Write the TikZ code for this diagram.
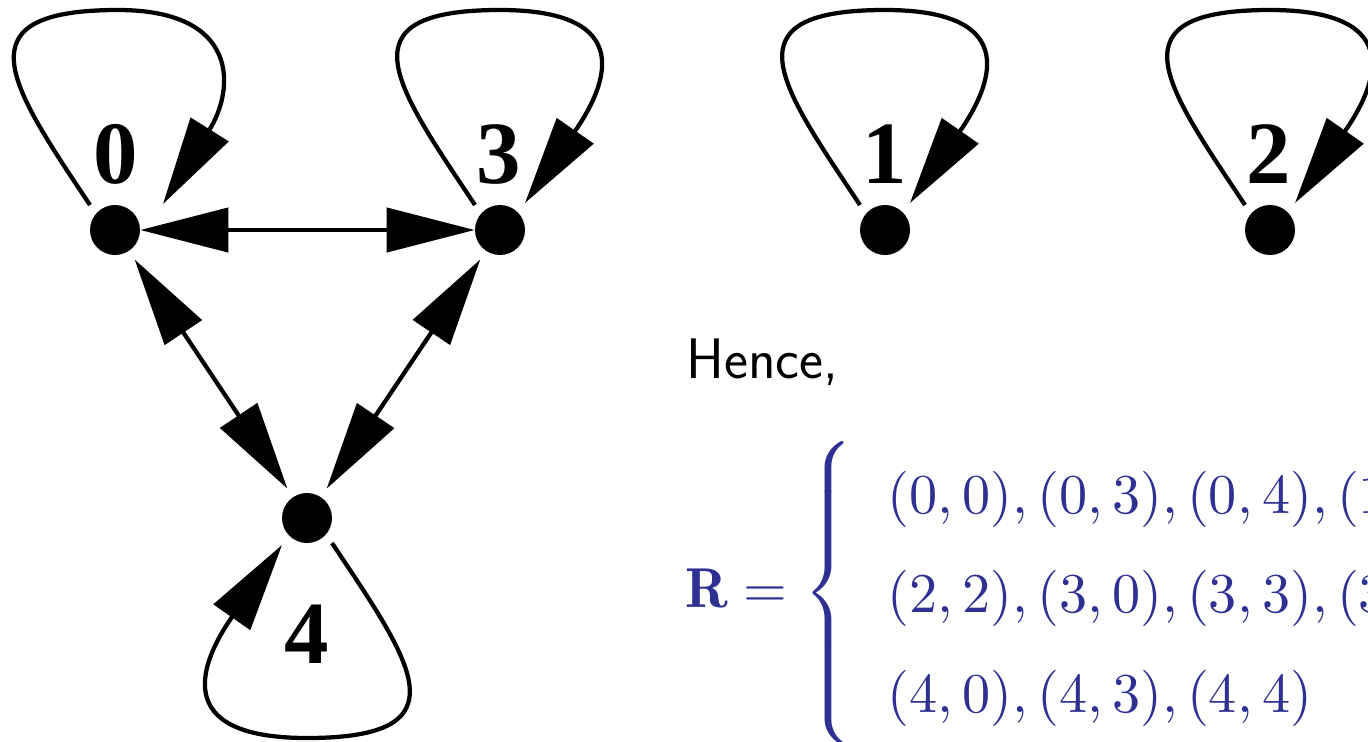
\documentclass[tikz,border=0pt]{standalone}
\usepackage{fontspec}
\usepackage{graphicx}
\newfontfamily\numfont{Liberation Serif}
\usetikzlibrary{arrows.meta,calc}
\definecolor{setblue}{RGB}{46,49,146}
% one row of the set: 100px pitch once scaled
\newcommand{\rowstrut}{\rule[-5.33pt]{0pt}{17.78pt}}

\begin{document}
\begin{tikzpicture}[
    x=0.02cm, y=-0.02cm,
    >={Triangle[length=1.76cm,width=0.88cm]},
    vertex/.style={circle, fill=black, inner sep=0pt, minimum size=1cm},
    vlabel/.style={anchor=base, inner sep=0pt,
      font=\numfont\bfseries\fontsize{50.6}{60}\selectfont},
    relarrow/.style={<->, line width=0.085cm},
    selfloop/.style={->, line width=0.085cm},
  ]

  % frame = cropped page, 1 unit = 1 pixel
  \useasboundingbox (0,0) rectangle (1368,741);
  \clip (0,0) rectangle (1368,741);

  % ------------------------------------------------------------------
  % vertices and their numbers
  % ------------------------------------------------------------------
  \node[vertex] (n0) at (115,230) {};
  \node[vertex] (n3) at (500,230) {};
  \node[vertex] (n1) at (885,230) {};
  \node[vertex] (n2) at (1270,230) {};
  \node[vertex] (n4) at (307,518) {};

  \node[vlabel] (l0) at ($(n0)+(1,-47)$) {0};
  \node[vlabel] (l3) at ($(n3)+(-1,-47)$) {3};
  \node[vlabel] (l1) at ($(n1)+(0,-47)$) {1};
  \node[vlabel] (l2) at ($(n2)+(-1,-47)$) {2};
  \node[vlabel] (l4) at ($(n4)+(0,145)$) {4};

  % ------------------------------------------------------------------
  % two-way edges of the triangle 0 -- 3 -- 4
  % ------------------------------------------------------------------
  \draw[relarrow] (n0) -- (n3);
  \draw[relarrow, shorten <=0.2cm, shorten >=0.2cm] (n0) -- (n4);
  \draw[relarrow, shorten <=0.2cm, shorten >=0.2cm] (n3) -- (n4);

  % ------------------------------------------------------------------
  % self-loops: left side up to the top, then down onto the dot
  % ------------------------------------------------------------------
  \draw[selfloop] ($(n0)+(-25,-25)$) .. controls +(-80,-120) and +(-160,0) .. ($(n0)+(3,-220)$)
    .. controls +(122,0) and +(72,-115) .. ($(n0)+(48,-26)$);
  \foreach \v in {n3,n1,n2} {
    \draw[selfloop] ($(\v)+(-25,-25)$) .. controls +(-80,-120) and +(-160,0) .. ($(\v)+(0,-220)$)
      .. controls +(140,0) and +(80,-115) .. ($(\v)+(25,-27)$);
  }
  % loop of 4 hangs below the dot
  \draw[selfloop] ($(n4)+(25,25)$) .. controls +(80,120) and +(160,0) .. ($(n4)+(0,220)$)
    .. controls +(-140,0) and +(-80,115) .. ($(n4)+(-25,27)$);

  % ------------------------------------------------------------------
  % text on the right
  % ------------------------------------------------------------------
  \node[anchor=base west, inner sep=0pt,
        font=\sffamily\fontsize{32.5}{39}\selectfont] (hence) at (686,378) {Hence,};
  \node[anchor=base west, inner sep=0pt, text=setblue] (relset) at (685,607)
    {\scalebox{3.2}{$\mathbf{R} = \left\{\rule[-27pt]{0pt}{59pt}\begin{array}{@{\hspace{6.1pt}}l}
       \rowstrut(0,0),(0,3),(0,4),(1,1),\\
       \rowstrut(2,2),(3,0),(3,3),(3,4),\\
       \rowstrut(4,0),(4,3),(4,4)
     \end{array}\right\}$}};

\end{tikzpicture}
\end{document}
